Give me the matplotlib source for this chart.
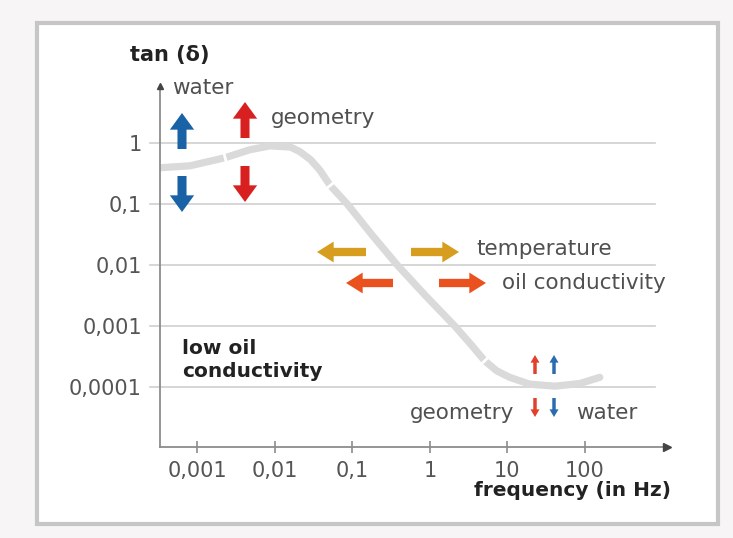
import numpy as np
import matplotlib
matplotlib.use("Agg")
import matplotlib.pyplot as plt
from matplotlib.patches import FancyArrowPatch, Rectangle

# Dissipation factor tan(delta) versus frequency
frequency_hz = [3.3e-4, 8.1e-4, 2.3e-3, 4.8e-3, 8.7e-3, 0.016, 0.021, 0.029, 0.038, 0.052,
                0.086, 0.18, 0.38, 0.87, 2.1, 3.3, 5.1, 7.3, 10.7, 19.4, 41, 86, 155]
tan_delta = [0.39, 0.42, 0.57, 0.77, 0.89, 0.85, 0.72, 0.53, 0.36, 0.20,
             0.10, 0.031, 0.010, 0.0032, 0.001, 5.2e-4, 2.7e-4, 1.85e-4, 1.45e-4,
             1.12e-4, 1.04e-4, 1.15e-4, 1.45e-4]
# indices where the curve is interrupted by a thin break
break_points = [2, 9, 16]

x_ticks = [0.001, 0.01, 0.1, 1, 10, 100]
x_tick_labels = ["0,001", "0,01", "0,1", "1", "10", "100"]
y_ticks = [1, 0.1, 0.01, 0.001, 0.0001]
y_tick_labels = ["1", "0,1", "0,01", "0,001", "0,0001"]

W, H = 733, 538
plt.rcParams['font.family'] = ['DejaVu Sans']
fig = plt.figure(figsize=(W / 100, H / 100), dpi=100, facecolor="#f7f5f6")


def fx(px):
    return px / W


def fy(py):
    return 1 - py / H


# white panel with grey frame, kept behind the axes
fig.patches.append(Rectangle((fx(37), fy(524)), fx(717.5) - fx(37), fy(23) - fy(524),
                             transform=fig.transFigure, facecolor="white",
                             edgecolor="#c6c6c6", linewidth=3.0, zorder=-5))

ax = fig.add_axes([fx(160), fy(447), fx(667) - fx(160), fy(86) - fy(447)])
ax.set_facecolor("none")
ax.set_xscale("log")
ax.set_yscale("log")
ax.set_xlim(3.33e-4, 1140)
ax.set_ylim(1.05e-5, 8.5)

for s in ["top", "right"]:
    ax.spines[s].set_visible(False)
for s in ["left", "bottom"]:
    ax.spines[s].set_color("#8c8c8c")
    ax.spines[s].set_linewidth(1.3)

ax.set_xticks(x_ticks)
ax.set_xticklabels(x_tick_labels)
ax.xaxis.set_minor_locator(matplotlib.ticker.NullLocator())
ax.tick_params(axis="x", direction="inout", length=8, width=1.2, color="#8c8c8c",
               labelsize=15, labelcolor="#555555", pad=6)
ax.set_yticks(y_ticks)
ax.set_yticklabels(y_tick_labels)
ax.yaxis.set_minor_locator(matplotlib.ticker.NullLocator())
ax.tick_params(axis="y", length=0, labelsize=15, labelcolor="#555555", pad=13)

# horizontal grid lines reaching slightly left of the axis
ytr = ax.get_yaxis_transform()
for yv in y_ticks:
    ax.plot([-0.02, 0.976], [yv, yv], transform=ytr, color="#cfcfcf", lw=1.2,
            clip_on=False, zorder=1)

# axis arrow heads
ax.plot([1], [0], marker=">", markersize=6, color="#444444", transform=ax.transAxes,
        clip_on=False, zorder=5)
ax.plot([0], [1], marker="^", markersize=4, color="#444444", transform=ax.transAxes,
        clip_on=False, zorder=5)

# main curve
ax.plot(frequency_hz, tan_delta, color="#dadada", lw=5.2, solid_capstyle="round",
        solid_joinstyle="round", zorder=2)

# small white breaks across the curve
fig.canvas.draw()
pts = ax.transData.transform(np.column_stack([frequency_hz, tan_delta]))
inv = ax.transData.inverted()
for i in break_points:
    d = pts[i + 1] - pts[i - 1]
    d = d / np.hypot(*d)
    n = np.array([-d[1], d[0]])
    seg = inv.transform(np.vstack([pts[i] - 7 * n, pts[i] + 7 * n]))
    ax.plot(seg[:, 0], seg[:, 1], color="white", lw=2.0, zorder=3,
            solid_capstyle="butt")


def arrow(x0, y0, x1, y1, color, hw, hl, tw):
    style = f"simple,head_width={hw},head_length={hl},tail_width={tw}"
    p = FancyArrowPatch((fx(x0), fy(y0)), (fx(x1), fy(y1)), transform=fig.transFigure,
                        arrowstyle=style, mutation_scale=10, color=color,
                        shrinkA=0, shrinkB=0, linewidth=0, zorder=6)
    fig.patches.append(p)


blue = "#1a62a6"
red = "#d92020"
gold = "#d69d1e"
orange = "#e9521f"

# large vertical arrows
arrow(182, 149, 182, 113, blue, 1.75, 1.2, 0.65)
arrow(182, 176, 182, 212, blue, 1.75, 1.2, 0.65)
arrow(245, 138, 245, 102, red, 1.75, 1.2, 0.65)
arrow(245, 166, 245, 202, red, 1.75, 1.2, 0.65)

# horizontal arrows
arrow(366, 252, 317, 252, gold, 1.5, 1.2, 0.6)
arrow(411, 252, 459, 252, gold, 1.5, 1.2, 0.6)
arrow(393, 283, 346, 283, orange, 1.5, 1.2, 0.6)
arrow(439, 283, 486, 283, orange, 1.5, 1.2, 0.6)

# small vertical arrows
arrow(535, 374, 535, 355, "#e0402c", 0.65, 0.55, 0.25)
arrow(554, 374, 554, 355, "#2a6cb0", 0.65, 0.55, 0.25)
arrow(535, 398, 535, 417, "#e0402c", 0.65, 0.55, 0.25)
arrow(554, 398, 554, 417, "#2a6cb0", 0.65, 0.55, 0.25)

txt = "#505050"
fig.text(fx(130), fy(55), "tan (δ)", fontsize=15, fontweight="bold", color="#222222",
         ha="left", va="center")
fig.text(fx(172), fy(88), "water", fontsize=15.5, color=txt, ha="left", va="center")
fig.text(fx(271), fy(118), "geometry", fontsize=15.5, color=txt, ha="left", va="center")
fig.text(fx(476), fy(249), "temperature", fontsize=15.5, color=txt, ha="left", va="center")
fig.text(fx(502), fy(283), "oil conductivity", fontsize=15.5, color=txt, ha="left",
         va="center")
fig.text(fx(182), fy(360), "low oil\nconductivity", fontsize=14.5, fontweight="bold",
         color="#222222", ha="left", va="center", linespacing=1.25)
fig.text(fx(514), fy(413), "geometry", fontsize=15.5, color=txt, ha="right", va="center")
fig.text(fx(576), fy(413), "water", fontsize=15.5, color=txt, ha="left", va="center")
fig.text(fx(671), fy(491), "frequency (in Hz)", fontsize=14.5, fontweight="bold",
         color="#222222", ha="right", va="center")

fig.savefig("out.png", dpi=100, facecolor=fig.get_facecolor())
